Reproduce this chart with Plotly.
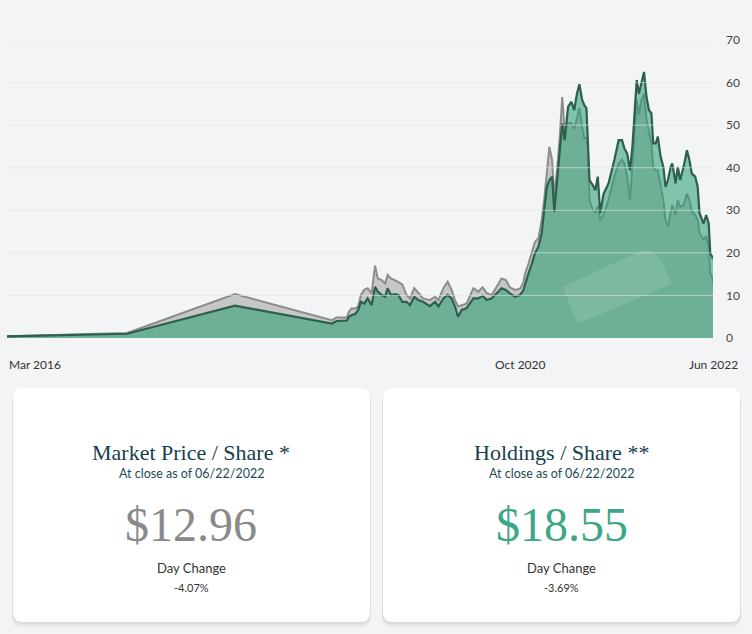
import plotly.graph_objects as go

# Market price vs holdings per share
dates = [
    "2016-03-01", "2017-03-28", "2018-03-15", "2019-01-03", "2019-01-25", "2019-02-10",
    "2019-02-26", "2019-03-15", "2019-03-22", "2019-03-31", "2019-04-11", "2019-04-21",
    "2019-04-30", "2019-05-11", "2019-05-22", "2019-06-04", "2019-06-15", "2019-06-24",
    "2019-07-07", "2019-07-18", "2019-07-26", "2019-08-06", "2019-08-19", "2019-08-30",
    "2019-09-12", "2019-09-26", "2019-10-07", "2019-10-21", "2019-11-03", "2019-11-19",
    "2019-12-11", "2019-12-28", "2020-01-08", "2020-01-24", "2020-02-07", "2020-02-20",
    "2020-03-02", "2020-03-12", "2020-03-24", "2020-04-09", "2020-05-01", "2020-05-17",
    "2020-05-31", "2020-06-14", "2020-06-30", "2020-07-16", "2020-08-01", "2020-08-15",
    "2020-08-28", "2020-09-14", "2020-09-30", "2020-10-11", "2020-10-17", "2020-10-28",
    "2020-11-08", "2020-11-18", "2020-11-29", "2020-12-10", "2020-12-18", "2020-12-27",
    "2021-01-04", "2021-01-13", "2021-01-20", "2021-01-29", "2021-02-07", "2021-02-15",
    "2021-02-23", "2021-03-06", "2021-03-17", "2021-03-26", "2021-04-04", "2021-04-12",
    "2021-04-21", "2021-04-28", "2021-05-05", "2021-05-09", "2021-05-15", "2021-05-26",
    "2021-06-03", "2021-06-11", "2021-06-19", "2021-06-30", "2021-07-16", "2021-08-04",
    "2021-08-18", "2021-08-29", "2021-09-06", "2021-09-15", "2021-09-24", "2021-10-02",
    "2021-10-07", "2021-10-16", "2021-10-23", "2021-10-31", "2021-11-09", "2021-11-17",
    "2021-11-25", "2021-12-03", "2021-12-09", "2021-12-17", "2021-12-24", "2022-01-02",
    "2022-01-11", "2022-01-18", "2022-01-26", "2022-02-04", "2022-02-09", "2022-02-20",
    "2022-02-27", "2022-03-07", "2022-03-18", "2022-03-29", "2022-04-06", "2022-04-14",
    "2022-04-25", "2022-05-03", "2022-05-09", "2022-05-22", "2022-05-31", "2022-06-08",
    "2022-06-13", "2022-06-19", "2022-06-22",
]
market_price = [
    0.4, 1.2, 10.3, 4.5, 4.2, 4.8,
    4.8, 4.8, 6.2, 7.0, 6.9, 7.4,
    10.1, 11.3, 11.7, 10.5, 17.0, 14.0,
    13.6, 12.8, 14.8, 14.0, 13.6, 13.2,
    12.6, 10.1, 9.3, 11.7, 10.5, 9.3,
    8.9, 9.7, 8.9, 11.7, 13.2, 11.3,
    8.9, 7.4, 7.7, 8.1, 11.7, 10.9,
    11.9, 10.5, 10.1, 12.0, 14.0, 13.6,
    11.9, 11.3, 11.6, 13.0, 15.2, 17.5,
    19.9, 22.6, 23.4, 27.7, 32.4, 39.4,
    44.9, 41.8, 33.2, 39.4, 47.3, 56.6,
    48.8, 50.5, 50.5, 49.0, 52.0, 54.0,
    49.5, 47.0, 47.0, 45.5, 32.4, 30.0,
    29.5, 31.0, 27.7, 29.0, 32.4, 37.9,
    41.0, 41.8, 41.0, 37.9, 32.4, 39.4,
    45.7, 55.9, 52.5, 55.9, 57.4, 51.2,
    48.0, 45.7, 40.2, 39.4, 39.4, 35.5,
    32.4, 27.7, 26.1, 29.7, 31.3, 28.9,
    32.4, 30.8, 31.3, 33.9, 32.4, 29.7,
    28.9, 27.7, 24.6, 23.2, 23.8, 21.4,
    15.2, 14.4, 12.96,
]
holdings = [
    0.4, 1.0, 7.6, 3.8, 3.4, 4.0,
    4.1, 4.1, 5.0, 5.4, 5.6, 6.6,
    8.5, 8.1, 9.3, 7.7, 12.0, 10.9,
    10.1, 9.7, 11.7, 10.1, 10.3, 10.1,
    8.5, 8.5, 7.7, 9.7, 8.9, 8.5,
    7.5, 8.5, 7.4, 9.3, 10.1, 9.3,
    7.4, 5.0, 6.6, 7.0, 9.3, 9.3,
    9.9, 8.9, 9.3, 10.5, 11.7, 11.3,
    10.5, 9.7, 10.1, 11.2, 12.8, 15.2,
    17.5, 19.9, 21.4, 24.6, 30.0, 35.5,
    37.1, 37.9, 29.7, 37.1, 44.1, 50.4,
    46.5, 54.3, 55.5, 53.5, 57.4, 59.6,
    55.9, 54.7, 54.0, 47.3, 37.1, 35.9,
    34.7, 37.9, 29.3, 33.9, 36.3, 41.8,
    46.5, 46.5, 44.5, 43.3, 39.4, 44.9,
    51.2, 60.6, 57.4, 59.8, 62.5, 56.6,
    53.5, 52.8, 45.7, 45.7, 47.3, 42.6,
    40.2, 35.5, 37.1, 40.2, 41.0, 36.3,
    40.2, 37.1, 40.2, 44.1, 41.8, 38.6,
    37.9, 35.5, 29.3, 26.9, 28.9, 26.9,
    19.9, 19.1, 18.55,
]

y_ticks = [0, 10, 20, 30, 40, 50, 60, 70]
x_tick_dates = ["2016-03-01", "2020-10-01", "2022-06-22"]
x_tick_labels = ["Mar 2016", "Oct 2020", "Jun 2022"]

card_titles = ["Market Price / Share *", "Holdings / Share **"]
card_asof = ["At close as of 06/22/2022", "At close as of 06/22/2022"]
card_values = ["$12.96", "$18.55"]
card_changes = ["-4.07%", "-3.69%"]

W, H = 752, 634
L, R, T, B = 7, 39, 40, 296


def px(x):
    return (x - L) / (W - L - R)


def py(y):
    return (H - B - y) / (H - T - B)


def to_path(cmds):
    path = ""
    for cmd, coords in cmds:
        path += cmd + " " + " ".join(f"{px(a):.5f},{py(b):.5f}" for a, b in coords) + " "
    return path + "Z"


def rounded_rect(x0, y0, x1, y1, r):
    return to_path([
        ("M", [(x0 + r, y0)]), ("L", [(x1 - r, y0)]), ("Q", [(x1, y0), (x1, y0 + r)]),
        ("L", [(x1, y1 - r)]), ("Q", [(x1, y1), (x1 - r, y1)]), ("L", [(x0 + r, y1)]),
        ("Q", [(x0, y1), (x0, y1 - r)]), ("L", [(x0, y0 + r)]), ("Q", [(x0, y0), (x0 + r, y0)]),
    ])


fig = go.Figure()

fig.add_trace(go.Scatter(
    x=dates, y=market_price, mode="lines", name="Market Price / Share",
    line=dict(color="#8c8c8c", width=2), fill="tozeroy", fillcolor="#c6c6c6",
))
fig.add_trace(go.Scatter(
    x=dates, y=holdings, mode="lines", name="Holdings / Share",
    line=dict(color="#2d5f4c", width=2.2), fill="tozeroy", fillcolor="rgba(42,160,114,0.57)",
))

# gridlines sit on top of the areas
for v in y_ticks[1:]:
    fig.add_hline(y=v, line_color="rgba(225,232,235,0.6)", line_width=1, layer="above")

# faint watermark tile in the lower right of the chart
fig.add_shape(type="path", xref="paper", yref="paper", layer="above",
              path=to_path([("M", [(563, 287)]), ("L", [(640, 251)]),
                            ("Q", [(655, 248), (662, 262)]), ("L", [(672, 284)]),
                            ("L", [(577, 324)])]),
              fillcolor="rgba(255,255,255,0.11)", line=dict(width=0))

# x labels: first one hangs off the left edge
for d, lab, anchor in zip(x_tick_dates, x_tick_labels, ["left", "center", "center"]):
    fig.add_annotation(x=d, y=py(364), xref="x", yref="paper", text=lab, showarrow=False,
                       xanchor=anchor, yanchor="middle",
                       font=dict(family="Lato", size=12, color="#333333"))

# cards below the chart
card_x = [(13, 370), (383, 740)]
value_colors = ["#8a8a8a", "#3da688"]
for i, (x0, x1) in enumerate(card_x):
    for off, alpha in [(6, 0.025), (4, 0.035), (2, 0.04)]:
        fig.add_shape(type="path", xref="paper", yref="paper", layer="below",
                      path=rounded_rect(x0 - 1, 388 + off, x1 + 1, 622 + off, 11),
                      fillcolor=f"rgba(0,0,0,{alpha})", line=dict(width=0))
    fig.add_shape(type="path", xref="paper", yref="paper", layer="below",
                  path=rounded_rect(x0, 388, x1, 622, 10),
                  fillcolor="#ffffff", line=dict(width=0))
    cx = px((x0 + x1) / 2)
    texts = [
        (card_titles[i], 452, "Liberation Serif", 22, "#17404c"),
        (card_asof[i], 473, "Lato", 12.5, "#1d4a5a"),
        (card_values[i], 524, "Liberation Serif", 48, value_colors[i]),
        ("Day Change", 568, "Lato", 13, "#333333"),
        (card_changes[i], 587, "Lato", 11, "#333333"),
    ]
    for text, y, family, size, color in texts:
        fig.add_annotation(x=cx, y=py(y), xref="paper", yref="paper", text=text,
                           showarrow=False, xanchor="center", yanchor="middle",
                           font=dict(family=family, size=size, color=color))

fig.update_layout(
    width=W, height=H,
    margin=dict(l=L, r=R, t=T, b=B),
    paper_bgcolor="#f2f4f6", plot_bgcolor="#f2f4f6",
    showlegend=False, hovermode="x unified",
)
fig.update_xaxes(type="date", range=[dates[0], dates[-1]], showticklabels=False,
                 showgrid=False, zeroline=False, showline=False)
fig.update_yaxes(range=[0, 70], side="right", tickvals=y_ticks, showgrid=False,
                 zeroline=False, showline=False, ticklabelstandoff=12,
                 tickfont=dict(family="Lato", size=12, color="#444444"))

fig.write_html("out.html", config={"displayModeBar": False},
               post_script="document.body.style.margin='0';")
